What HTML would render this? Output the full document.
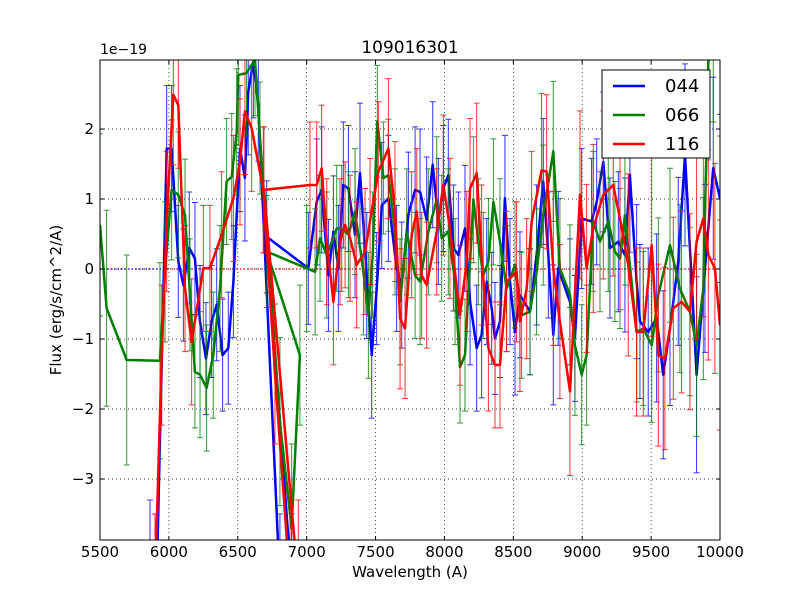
<!DOCTYPE html>
<html><head><meta charset="utf-8"><style>
html,body{margin:0;padding:0;background:#fff;width:800px;height:600px;overflow:hidden;}
svg{display:block;}
svg text{font-family:"DejaVu Sans","Liberation Sans",sans-serif;}
</style></head><body>
<svg id="chart" width="800" height="600" viewBox="0 0 800 600" xmlns="http://www.w3.org/2000/svg">
<rect x="0" y="0" width="800" height="600" fill="#fff"/>
<defs><clipPath id="pc"><rect x="100" y="60" width="620" height="480"/></clipPath></defs>
<g id="grid"></g>
<g id="plot" clip-path="url(#pc)"></g>
<rect x="100" y="60" width="620" height="480" fill="none" stroke="#000" stroke-width="1"/>
<g id="ticks"></g>
<text x="410" y="53" font-size="17" text-anchor="middle">109016301</text>
<text x="100" y="54" font-size="14">1e−19</text>
<text x="410" y="577" font-size="15" text-anchor="middle">Wavelength (A)</text>
<text x="0" y="0" font-size="15" text-anchor="middle" transform="translate(61,300) rotate(-90)">Flux (erg/s/cm^2/A)</text>
<g>
<rect x="602" y="70" width="108" height="88" fill="#fff" stroke="#000" stroke-width="1"/>
<g><line x1="613" y1="86" x2="645" y2="86" stroke="#0000ff" stroke-width="2.5"/><text x="665" y="92" font-size="18">044</text></g>
<g><line x1="613" y1="115" x2="645" y2="115" stroke="#008000" stroke-width="2.5"/><text x="665" y="121" font-size="18">066</text></g>
<g><line x1="613" y1="144" x2="645" y2="144" stroke="#ff0000" stroke-width="2.5"/><text x="665" y="150" font-size="18">116</text></g>
</g>
</svg>
<script>
const xTicks=[5500,6000,6500,7000,7500,8000,8500,9000,9500,10000];
const yTicks=[-3,-2,-1,0,1,2];
const yTickLabels=["−3","−2","−1","0","1","2"];

const bx=[5863,5911,5984,6020,6068,6105,6148,6189,6226,6269,6310,6347,6390,6431,6468,6516,6552,6576,6613,6649,6806,6891,6710,7012,
7073,7109,7158,7194,7230,7266,7303,7351,7387,7436,7472,7508,7545,7593,7653,7690,7738,7787,7823,7871,7915,7956,7992,8028,8065,8101,8149,8186,8234,8270,8307,8343,8367,8403,
8439,8476,8512,8548,8621,8669,8717,8754,8790,8826,8911,8947,8996,9068,9105,9153,9201,9262,9310,9346,9395,9419,9479,9540,9588,9637,9697,9746,9830,9891,9951,10000];
const by=[-4.3,-4.5,1.72,1.72,0.11,-0.23,0.30,0.15,-0.75,-1.28,-0.75,-0.51,-1.23,-1.13,-0.18,1.72,1.30,2.53,2.96,2.34,-4.5,-4.5,0.46,0.01,
0.96,1.13,-0.09,0.53,0.01,1.20,1.15,0.49,1.37,-0.09,-1.23,-0.28,0.91,1.01,0.01,-0.23,0.77,1.13,1.10,0.70,1.49,0.68,1.15,1.34,0.30,0.20,0.58,-0.47,-1.13,-0.94,-0.18,-0.56,-0.99,-0.75,
1.01,-0.18,-0.90,-0.37,-0.61,0.20,1.25,0.20,-0.94,0.01,-0.47,-0.99,0.72,0.68,0.96,1.53,0.30,0.39,0.20,1.34,-0.18,-0.75,-0.90,-0.70,-1.51,-0.85,0.11,1.63,-1.51,0.01,1.44,1.01];
const be=[1.0,1.0,0.9,0.9,0.8,0.8,0.8,0.8,0.8,0.8,0.8,0.8,0.8,0.8,0.8,0.9,0.9,0.9,0.8,0.8,1.0,1.0,0.8,0.8,0.9,0.9,0.8,0.8,0.9,0.9,
0.9,0.9,1.0,0.9,0.9,0.8,0.9,0.9,0.9,0.9,0.9,0.9,0.9,0.9,0.9,0.9,0.9,0.8,0.9,0.9,0.9,0.9,0.9,0.9,0.9,0.8,0.8,0.8,0.9,0.9,
0.9,0.9,0.9,1.0,0.9,0.9,1.0,1.1,0.9,0.9,1.0,0.9,0.9,1.0,1.0,1.0,1.1,1.1,1.1,1.1,1.2,1.2,1.2,1.1,1.2,1.3,1.4,1.2,1.3,1.2];

const gx=[5500,5548,5694,5935,5972,6020,6068,6117,6153,6189,6226,6274,6322,6371,6419,6456,6492,6504,6564,6625,6661,6806,6891,6951,6710,7000,
7061,7097,7146,7218,7254,7303,7351,7412,7448,7479,7513,7557,7593,7641,7678,7726,7787,7823,7883,7944,7980,8028,8077,8113,8149,8210,8246,8282,8319,8355,8403,
8451,8512,8560,8621,8669,8717,8790,8838,8911,8947,8996,9032,9080,9129,9189,9237,9274,9310,9395,9443,9504,9552,9637,9709,9782,9830,9879,9915,9951,10000];
const gy=[0.63,-0.56,-1.30,-1.31,-0.04,1.13,1.06,0.77,-0.37,-1.47,-1.51,-1.70,-1.23,-0.28,1.25,1.32,1.96,2.77,2.80,2.99,1.87,-2.18,-3.7,-1.23,0.25,0.01,
-0.04,0.44,0.20,0.58,0.58,0.49,0.82,-0.04,-0.66,0.20,2.11,1.30,1.34,0.53,-0.47,0.53,-0.09,-0.18,0.53,0.99,0.44,0.53,-0.18,-1.40,-1.23,0.99,0.39,-0.09,0.11,0.96,0.39,
-0.28,0.06,-0.66,-0.61,-0.04,0.77,1.68,0.01,-0.37,-1.09,-1.51,-1.23,0.68,0.39,0.68,0.25,0.15,0.77,-0.90,-0.85,-1.09,-0.37,0.34,-0.28,-0.61,-1.09,-0.28,2.96,3.5,3.3];
const ge=[1.3,1.4,1.5,1.4,1.0,1.0,0.9,0.8,0.8,0.8,0.9,0.9,0.9,0.9,0.9,0.9,0.9,1.0,0.9,0.8,0.8,1.2,1.2,1.0,0.8,0.9,
0.9,0.9,0.9,0.9,0.9,0.9,0.9,0.9,0.9,0.9,0.8,0.8,0.8,0.9,0.9,0.9,0.9,0.9,0.9,0.9,0.9,0.9,0.9,0.8,0.8,0.9,0.9,0.9,0.9,0.9,0.9,
0.9,0.9,0.9,0.9,0.9,1.0,1.0,1.0,1.0,1.0,1.0,1.0,1.0,1.0,1.0,1.0,1.0,1.0,1.0,1.1,1.1,1.1,1.1,1.2,1.2,1.3,1.3,1.4,1.4,1.4];

const rx=[5899,5948,5984,6032,6068,6117,6165,6250,6298,6383,6468,6516,6552,6601,6685,6770,6879,6939,6690,7024,
7073,7109,7146,7194,7242,7279,7315,7363,7424,7460,7520,7593,7641,7678,7714,7762,7799,7835,7871,7944,7992,8040,8113,8162,8186,8234,8270,8319,8367,8403,
8451,8524,8548,8597,8633,8705,8742,8790,8838,8911,8984,9032,9080,9153,9225,9274,9334,9395,9443,9504,9552,9600,9661,9721,9782,9830,9879,9915,9963,10000];
const ry=[-4.5,-1.23,0.68,2.49,2.34,-0.28,-1.04,0.01,0.01,0.49,1.01,1.53,2.25,2.01,1.13,-1.5,-4.5,-4.5,1.13,1.20,
1.20,1.44,0.39,-0.47,0.39,0.63,0.44,0.06,0.25,0.68,1.39,1.72,0.82,-0.71,-0.85,0.49,0.82,-0.09,-0.23,0.53,1.20,0.58,-0.66,0.11,1.15,1.37,0.20,-1.13,-1.37,-1.37,
-0.18,-0.04,-0.75,-0.28,0.68,1.41,1.39,0.01,-0.75,-1.75,1.06,0.01,0.58,1.06,1.20,0.72,0.06,-0.90,-0.90,0.34,-1.23,-1.28,-0.56,-0.47,-0.61,0.39,0.72,0.20,0.01,-0.8];
const re=[1.0,1.0,1.0,1.0,0.9,0.9,0.9,0.9,0.9,0.9,0.9,0.9,0.9,0.9,0.9,1.0,1.2,1.2,0.9,0.9,
0.9,0.9,0.9,0.9,0.9,0.9,0.9,0.9,0.9,0.9,1.0,1.0,1.0,1.0,1.0,0.9,0.9,0.9,0.9,0.9,1.0,1.0,1.0,1.0,1.0,1.0,1.0,0.9,0.9,0.9,
1.0,1.0,1.0,1.0,1.0,1.1,1.1,1.1,1.1,1.2,1.2,1.2,1.2,1.2,1.3,1.3,1.3,1.2,1.2,1.3,1.3,1.3,1.3,1.3,1.4,1.4,1.4,1.5,1.5,1.5];

const xMin=5500,xMax=10000,yMin=-3.871,yMax=2.986;
const L=100,R=720,T=60,B=540;
function X(v){return L+(v-xMin)/(xMax-xMin)*(R-L);}
function Y(v){return B-(v-yMin)/(yMax-yMin)*(B-T);}
function clampY(p){return Math.max(T-5,Math.min(B+5,p));}
const NS="http://www.w3.org/2000/svg";
function mk(tag,attrs,parent){const e=document.createElementNS(NS,tag);for(const k in attrs)e.setAttribute(k,attrs[k]);parent.appendChild(e);return e;}
const grid=document.getElementById('grid'),plot=document.getElementById('plot'),ticks=document.getElementById('ticks');

xTicks.forEach(function(t,i){
  const x=X(t);
  if(i>0&&i<xTicks.length-1){const g=mk('line',{x1:x,y1:T,x2:x,y2:B,stroke:'#000','stroke-width':0.7,'stroke-dasharray':'1,3'},grid);
  
  }
  const a=mk('line',{x1:x,y1:B,x2:x,y2:B-4,stroke:'#000'},ticks);
  
  
  mk('line',{x1:x,y1:T,x2:x,y2:T+4,stroke:'#000'},ticks);
  const tx=mk('text',{x:x,y:B+17,'font-size':15,'text-anchor':'middle'},ticks);
  tx.textContent=t;
  
  
});
yTicks.forEach(function(t,i){
  const y=Y(t);
  const g=mk('line',{x1:L,y1:y,x2:R,y2:y,stroke:'#000','stroke-width':0.7,'stroke-dasharray':'1,3'},grid);
  
  
  const a=mk('line',{x1:L,y1:y,x2:L+4,y2:y,stroke:'#000'},ticks);
  
  
  mk('line',{x1:R,y1:y,x2:R-4,y2:y,stroke:'#000'},ticks);
  const tx=mk('text',{x:L-6,y:y+5,'font-size':15,'text-anchor':'end'},ticks);
  tx.textContent=yTickLabels[i];
  
  
});

const z1=mk('line',{x1:L,y1:Y(0),x2:R,y2:Y(0),stroke:'#ff0000','stroke-width':1.2,'stroke-dasharray':'1.5,2'},plot);


const z2=mk('line',{x1:L,y1:Y(0),x2:X(6000),y2:Y(0),stroke:'#0000ff','stroke-width':1.2,'stroke-dasharray':'1.5,2'},plot);



function series(xs,ys,es,color,name){
  const n=Math.min(xs.length,ys.length,es.length);
  const g=mk('g',{},plot);
  
  
  for(let i=0;i<n;i++){
    const x=X(xs[i]),y1=clampY(Y(ys[i]-es[i])),y2=clampY(Y(ys[i]+es[i]));
    const eb=mk('path',{d:'M'+x+','+y1+'V'+y2+'M'+(x-3)+','+y1+'h6M'+(x-3)+','+y2+'h6',stroke:color,'stroke-width':1,'stroke-opacity':0.8,fill:'none'},g);
    
    
  }
  let d='';
  for(let i=0;i<n;i++){d+=(i?'L':'M')+X(xs[i]).toFixed(1)+','+Y(ys[i]).toFixed(1);}
  const p=mk('path',{d:d,stroke:color,'stroke-width':2.5,fill:'none','stroke-linejoin':'round'},g);
  
  
}
series(bx,by,be,'#0000ff','044');
series(gx,gy,ge,'#008000','066');
series(rx,ry,re,'#ff0000','116');
</script>
</body></html>
